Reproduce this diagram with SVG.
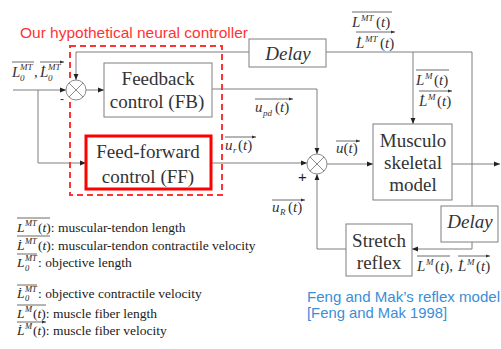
<svg xmlns="http://www.w3.org/2000/svg" width="501" height="349" viewBox="0 0 501 349">
<defs>
<marker id="ah" viewBox="0 0 10 10" refX="10" refY="5" markerWidth="6" markerHeight="6" orient="auto" markerUnits="userSpaceOnUse"><path d="M0,1 L10,5 L0,9 z" fill="#222"/></marker>
<marker id="oa" viewBox="0 0 10 10" refX="10" refY="5" markerWidth="4" markerHeight="4" orient="auto" markerUnits="userSpaceOnUse"><path d="M0,1 L10,5 L0,9 z" fill="#333"/></marker>
</defs>
<style>
.box{fill:#fff;stroke:#7f7f7f;stroke-width:1}
.bt{font-family:"Liberation Serif",serif;font-size:19px;fill:#333;text-anchor:middle}
.dl{font-family:"Liberation Serif",serif;font-size:19px;font-style:italic;fill:#333;text-anchor:middle}
.ln{fill:none;stroke:#7f7f7f;stroke-width:1}
.ar{fill:none;stroke:#7f7f7f;stroke-width:1;marker-end:url(#ah)}
.ov{fill:none;stroke:#444;stroke-width:0.8;marker-end:url(#oa)}
.m{font-family:"Liberation Serif",serif;font-size:15px;fill:#333}
.i{font-style:italic}
.s{font-size:9px;font-style:italic}
.lg{font-family:"Liberation Serif",serif;font-size:13.5px;fill:#222}
.ls{font-size:8.5px;font-style:italic}
.d{font-size:13.5px;font-style:normal}
.sum circle{fill:#fff;stroke:#8a8a8a;stroke-width:1}
.sum path{stroke:#8a8a8a;stroke-width:1}
</style>

<text id="title" x="20" y="38" font-family="Liberation Sans, sans-serif" font-size="15" fill="#f33" textLength="228" lengthAdjust="spacingAndGlyphs">Our hypothetical neural controller</text>

<g id="connectors">
<path class="ar" d="M13,90 H66"/>
<path class="ar" d="M249,52 H76 V80"/>
<path class="ar" d="M86,90 H104"/>
<path class="ar" d="M38,90 V163 H86"/>
<path class="ar" d="M212,89 H317 V154"/>
<path class="ar" d="M211,163 H307"/>
<path class="ar" d="M327,164 H373"/>
<path class="ar" d="M452,164 H500"/>
<path class="ln" d="M326,52 H472 V206"/>
<path class="ar" d="M413,52 V124"/>
<path class="ar" d="M472,242 V249 H412"/>
<path class="ar" d="M346,249 H317 V174"/>
</g>

<g id="controller">
<rect x="70" y="46" width="152" height="149" fill="none" stroke="#f33" stroke-width="2" stroke-dasharray="6,4"/>
</g>

<g id="sum1" class="sum">
<circle cx="76" cy="90" r="10"/>
<path d="M69,83 L83,97 M83,83 L69,97"/>
<text x="60" y="103" font-family="Liberation Sans, sans-serif" font-size="12" fill="#333">-</text>
</g>

<g id="fb">
<rect class="box" x="104" y="63" width="108" height="54"/>
<text class="bt" x="158" y="85">Feedback</text>
<text class="bt" x="157" y="108">control (FB)</text>
</g>

<g id="ff">
<rect x="86" y="136" width="125" height="53" fill="#fff" stroke="#f00" stroke-width="3"/>
<text class="bt" x="148" y="158">Feed-forward</text>
<text class="bt" x="148" y="183">control (FF)</text>
</g>

<g id="sum2" class="sum">
<circle cx="317" cy="164" r="10"/>
<path d="M310,157 L324,171 M324,157 L310,171"/>
<text x="298" y="182" font-family="Liberation Sans, sans-serif" font-size="15" fill="#222">+</text>
</g>

<g id="musculo">
<rect class="box" x="373" y="124" width="79" height="76"/>
<text class="bt" x="413" y="147">Musculo</text>
<text class="bt" x="413" y="169">skeletal</text>
<text class="bt" x="413" y="191">model</text>
</g>

<g id="delay1">
<rect class="box" x="249" y="39" width="77" height="28"/>
<text class="dl" x="288" y="60">Delay</text>
</g>

<g id="delay2">
<rect class="box" x="441" y="206" width="57" height="36"/>
<text class="dl" x="470" y="228">Delay</text>
</g>

<g id="stretch">
<rect class="box" x="346" y="224" width="66" height="52"/>
<text class="bt" x="379" y="247">Stretch</text>
<text class="bt" x="379" y="269">reflex</text>
</g>

<g id="labels">
<text class="m"><tspan x="12" y="77" class="i">L</tspan><tspan x="20" y="70" class="s">MT</tspan><tspan x="20" y="81" class="s" font-style="normal">0</tspan><tspan x="34" y="77">,</tspan><tspan x="40" y="77" class="i">L̇</tspan><tspan x="48" y="70" class="s">MT</tspan><tspan x="48" y="81" class="s" font-style="normal">0</tspan></text>
<path class="ov" d="M12,62 H34 M40,62 H64"/>

<text class="m"><tspan x="352" y="27" class="i">L</tspan><tspan x="361" y="21" class="s">MT</tspan><tspan x="376" y="27">(</tspan><tspan class="i">t</tspan><tspan>)</tspan></text>
<text class="m"><tspan x="356" y="48" class="i">L̇</tspan><tspan x="365" y="42" class="s">MT</tspan><tspan x="380" y="48">(</tspan><tspan class="i">t</tspan><tspan>)</tspan></text>
<path class="ov" d="M352,12 H392 M356,32 H395"/>

<text class="m"><tspan x="416" y="85" class="i">L</tspan><tspan x="425" y="79" class="s">M</tspan><tspan x="434" y="85">(</tspan><tspan class="i">t</tspan><tspan>)</tspan></text>
<text class="m"><tspan x="419" y="106" class="i">L̇</tspan><tspan x="428" y="100" class="s">M</tspan><tspan x="437" y="106">(</tspan><tspan class="i">t</tspan><tspan>)</tspan></text>
<path class="ov" d="M416,70 H449 M419,91 H452"/>

<text class="m"><tspan x="255" y="112" class="i">u</tspan><tspan x="263" y="116" class="s">pd</tspan><tspan x="275" y="112">(</tspan><tspan class="i">t</tspan><tspan>)</tspan></text>
<path class="ov" d="M255,99 H293"/>

<text class="m"><tspan x="225" y="150" class="i">u</tspan><tspan x="233" y="153" class="s">r</tspan><tspan x="238" y="150">(</tspan><tspan class="i">t</tspan><tspan>)</tspan></text>
<path class="ov" d="M225,137 H256"/>

<text class="m"><tspan x="336" y="153" class="i">u</tspan><tspan>(</tspan><tspan class="i">t</tspan><tspan>)</tspan></text>
<path class="ov" d="M336,141 H360"/>

<text class="m"><tspan x="272" y="212" class="i">u</tspan><tspan x="280" y="215" class="s">R</tspan><tspan x="288" y="212">(</tspan><tspan class="i">t</tspan><tspan>)</tspan></text>
<path class="ov" d="M272,200 H305"/>

<text class="m"><tspan x="417" y="271" class="i">L</tspan><tspan x="426" y="265" class="s">M</tspan><tspan x="435" y="271">(</tspan><tspan class="i">t</tspan><tspan>),</tspan><tspan x="458" y="271" class="i">L̇</tspan><tspan x="467" y="265" class="s">M</tspan><tspan x="476" y="271">(</tspan><tspan class="i">t</tspan><tspan>)</tspan></text>
<path class="ov" d="M417,256 H450 M458,256 H490"/>
</g>

<g id="legend">
<text class="lg"><tspan x="17" y="232" class="i">L</tspan><tspan x="25" y="226" class="ls">MT</tspan><tspan x="38" y="232">(</tspan><tspan class="i">t</tspan><tspan>)</tspan><tspan class="d">: muscular-tendon length</tspan></text>
<text class="lg"><tspan x="17" y="250" class="i">L̇</tspan><tspan x="25" y="244" class="ls">MT</tspan><tspan x="38" y="250">(</tspan><tspan class="i">t</tspan><tspan>)</tspan><tspan class="d">: muscular-tendon contractile velocity</tspan></text>
<text class="lg"><tspan x="17" y="267" class="i">L</tspan><tspan x="25" y="261" class="ls">MT</tspan><tspan x="25" y="271" class="ls" font-style="normal">0</tspan><tspan x="38" y="267" class="d">: objective length</tspan></text>
<text class="lg"><tspan x="17" y="298" class="i">L̇</tspan><tspan x="25" y="292" class="ls">MT</tspan><tspan x="25" y="301" class="ls" font-style="normal">0</tspan><tspan x="38" y="298" class="d">: objective contractile velocity</tspan></text>
<text class="lg"><tspan x="17" y="318" class="i">L</tspan><tspan x="25" y="312" class="ls">M</tspan><tspan x="33" y="318">(</tspan><tspan class="i">t</tspan><tspan>)</tspan><tspan class="d">: muscle fiber length</tspan></text>
<text class="lg"><tspan x="17" y="335" class="i">L̇</tspan><tspan x="25" y="329" class="ls">M</tspan><tspan x="33" y="335">(</tspan><tspan class="i">t</tspan><tspan>)</tspan><tspan class="d">: muscle fiber velocity</tspan></text>
<path class="ov" d="M17,218 H50 M17,236 H50 M17,254 H37 M17,285 H37 M17,305 H46 M17,322 H46"/>
</g>

<g id="reference" font-family="Liberation Sans, sans-serif" font-size="15" fill="#3a8ed6">
<text x="307" y="302" textLength="193" lengthAdjust="spacingAndGlyphs">Feng and Mak’s reflex model</text>
<text x="307" y="318" textLength="140" lengthAdjust="spacingAndGlyphs">[Feng and Mak 1998]</text>
</g>
</svg>
